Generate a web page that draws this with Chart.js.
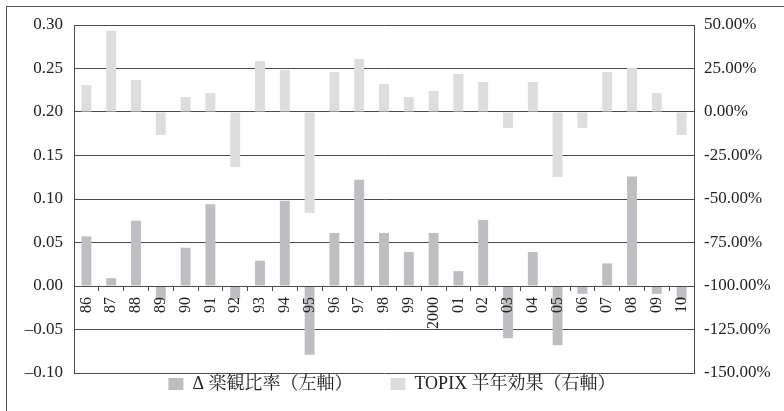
<!DOCTYPE html>
<html>
<head>
<meta charset="utf-8">
<script src="https://cdn.jsdelivr.net/npm/chart.js@4.4.1/dist/chart.umd.min.js"></script>
<style>
  html, body { margin: 0; padding: 0; background: #fff; }
  #wrap { position: relative; width: 784px; height: 411px; overflow: hidden; }
  #frame { position: absolute; left: 6px; top: 6px; width: 900px; height: 600px;
           border-left: 1px solid #555; border-top: 1px solid #555; }
  canvas { position: absolute; left: 0; top: 0; }
</style>
</head>
<body>
<div id="wrap">
  <div id="frame"></div>
  <canvas id="chart" width="784" height="411"></canvas>
</div>
<script>
// years (x axis)
const years = ["86", "87", "88", "89", "90", "91", "92", "93", "94", "95", "96", "97", "98",
               "99", "2000", "01", "02", "03", "04", "05", "06", "07", "08", "09", "10"];

// Δ楽観比率 (left axis)
const optimismDelta = [0.057, 0.009, 0.075, -0.016, 0.044, 0.094, -0.015, 0.029, 0.098, -0.079,
                       0.061, 0.122, 0.061, 0.039, 0.061, 0.017, 0.076, -0.060, 0.039, -0.068,
                       -0.009, 0.026, 0.126, -0.009, -0.016];

// TOPIX 半年効果 (right axis, as fraction)
const topixEffect = [0.155, 0.466, 0.184, -0.132, 0.086, 0.109, -0.316, 0.293, 0.241, -0.580,
                     0.230, 0.305, 0.161, 0.086, 0.121, 0.218, 0.172, -0.092, 0.172, -0.374,
                     -0.092, 0.230, 0.253, 0.109, -0.132];

const seriesNames = ["Δ 楽観比率（左軸）", "TOPIX 半年効果（右軸）"];

const serif = "'Liberation Serif', 'Noto Serif CJK JP', 'Noto Sans CJK JP', serif";
const lineCol = "#4a4a4a";

new Chart(document.getElementById("chart"), {
  type: "bar",
  data: {
    labels: years,
    datasets: [
      {
        label: seriesNames[0],
        data: optimismDelta,
        yAxisID: "y",
        backgroundColor: "#bdbec2",
        borderWidth: 0,
        grouped: false,
        categoryPercentage: 1,
        barPercentage: 0.4
      },
      {
        label: seriesNames[1],
        data: topixEffect,
        yAxisID: "y1",
        backgroundColor: "#dcdddf",
        borderWidth: 0,
        grouped: false,
        categoryPercentage: 1,
        barPercentage: 0.4
      }
    ]
  },
  options: {
    responsive: false,
    animation: false,
    layout: { padding: { top: 25, bottom: 8 } },
    plugins: {
      tooltip: { enabled: false },
      title: { display: false },
      legend: {
        position: "bottom",
        labels: {
          font: { family: serif, size: 18 },
          color: "#222",
          boxWidth: 15,
          boxHeight: 12,
          padding: 2,
          generateLabels: (chart) => {
            const items = Chart.defaults.plugins.legend.labels.generateLabels(chart);
            // leave a wide gap after the first entry, like the original
            items[0].text = items[0].text + "        ";
            return items;
          }
        }
      }
    },
    scales: {
      x: {
        type: "category",
        position: { y: 0 },
        offset: true,
        grid: { drawOnChartArea: false, drawTicks: true, tickLength: 4, offset: true, color: lineCol },
        border: { display: true, color: lineCol, z: 1 },
        ticks: {
          z: 1, // year labels sit on top of the bars
          autoSkip: false,
          minRotation: 90,
          maxRotation: 90,
          padding: 7,
          color: "#222",
          font: { family: serif, size: 16 }
        }
      },
      y: {
        position: "left",
        min: -0.1,
        max: 0.3,
        afterFit: (s) => { s.width = 74; },
        grid: { color: lineCol, drawTicks: false },
        border: { display: true, color: lineCol },
        ticks: {
          stepSize: 0.05,
          padding: 11,
          color: "#222",
          font: { family: serif, size: 17 },
          callback: (v) => (v < 0 ? "–" : "") + Math.abs(v).toFixed(2)
        }
      },
      y1: {
        position: "right",
        min: -1.5,
        max: 0.5,
        afterFit: (s) => { s.width = 90; },
        grid: { drawOnChartArea: false, drawTicks: false },
        border: { display: true, color: lineCol },
        ticks: {
          stepSize: 0.25,
          padding: 10,
          color: "#222",
          font: { family: serif, size: 17 },
          callback: (v) => (v * 100).toFixed(2) + "%"
        }
      }
    }
  }
});
</script>
</body>
</html>
